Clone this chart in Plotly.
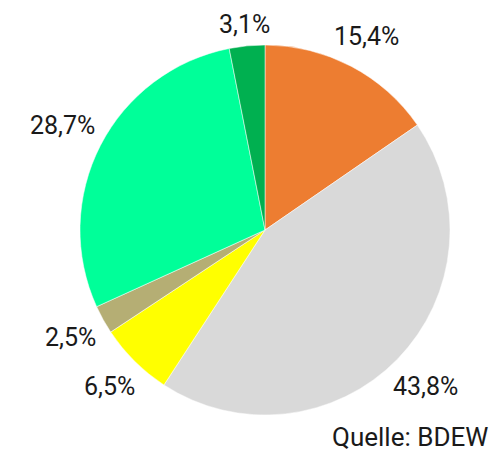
import math
import plotly.graph_objects as go

labels = ["Orange", "Grau", "Gelb", "Khaki", "Mint", "Grün"]
values = [15.4, 43.8, 6.5, 2.5, 28.7, 3.1]
text_labels = ["15,4%", "43,8%", "6,5%", "2,5%", "28,7%", "3,1%"]
colors = ["#ED7D31", "#D9D9D9", "#FFFF00", "#B5AE74", "#00FF99", "#00B050"]

OFF = 8                      # default page margin around the plot div
W, H = 503 - OFF, 454 - OFF
CX, CY, R = 265 - OFF, 230 - OFF, 185   # pie centre/radius in figure pixels
FONT = "Roboto"
FS = 25
GAP = 10


def px2paper(x, y):
    return x / W, 1 - y / H


x0, y0 = px2paper(CX - R, CY + R)
x1, y1 = px2paper(CX + R, CY - R)

fig = go.Figure(go.Pie(
    labels=labels,
    values=values,
    textinfo="none",
    sort=False,
    direction="clockwise",
    rotation=0,
    marker=dict(colors=colors, line=dict(color="white", width=0.5)),
    showlegend=False,
    hoverinfo="label+percent",
    domain=dict(x=[x0, x1], y=[y0, y1]),
))

# data labels placed outside each slice along its mid-angle
total = sum(values)
cum = 0.0
for v, t in zip(values, text_labels):
    theta = 2 * math.pi * (cum + v / 2) / total   # clockwise from top
    cum += v
    s, c = math.sin(theta), math.cos(theta)
    w = len(t) * 0.52 * FS
    h = 0.75 * FS
    d = R + GAP + abs(s) * w / 2 + abs(c) * h / 2
    ax, ay = px2paper(CX + d * s, CY - d * c)
    fig.add_annotation(
        text=t, x=ax, y=ay, xref="paper", yref="paper",
        xanchor="center", yanchor="middle", showarrow=False,
        font=dict(family=FONT, size=FS, color="#1a1a1a"),
    )

qx, _ = px2paper(490 - OFF, 0)
fig.add_annotation(
    text="Quelle: BDEW", x=qx, y=0, xref="paper", yref="paper",
    xanchor="right", yanchor="bottom", showarrow=False,
    font=dict(family=FONT, size=26, color="#1a1a1a"),
)

fig.update_layout(
    width=W, height=H,
    margin=dict(l=0, r=0, t=0, b=0),
    paper_bgcolor="white", plot_bgcolor="white",
)

fig.write_html("out.html")
